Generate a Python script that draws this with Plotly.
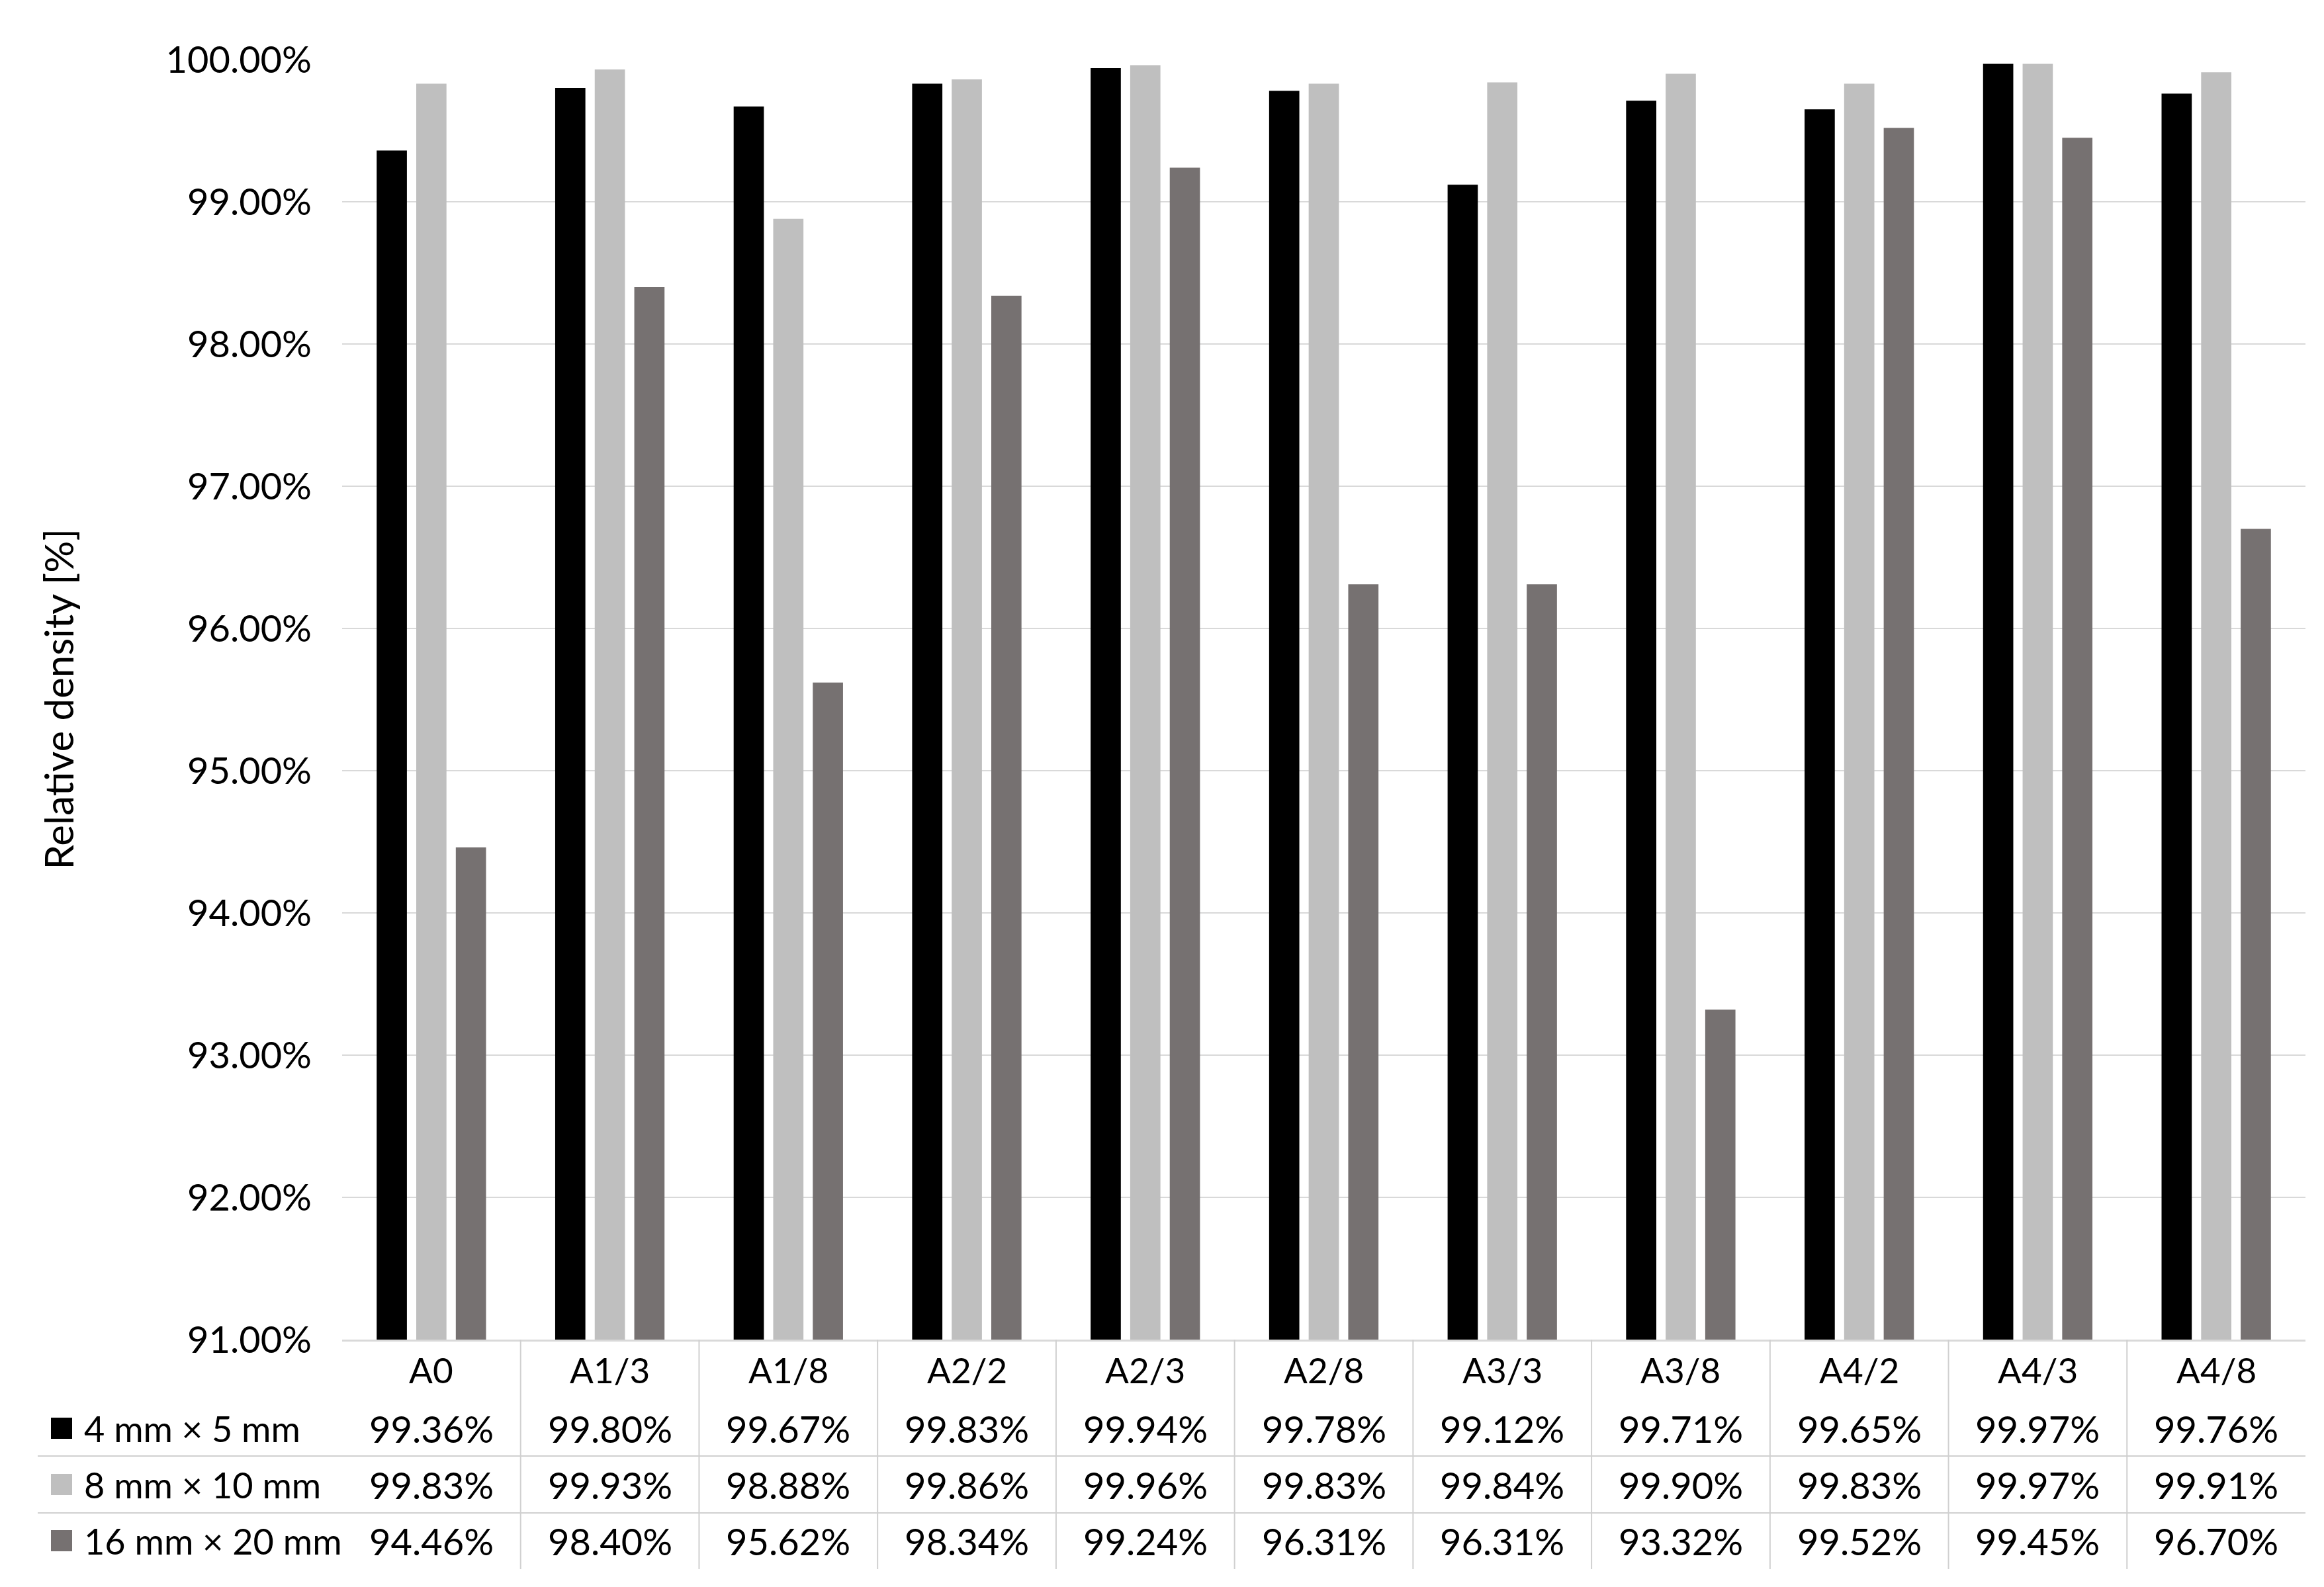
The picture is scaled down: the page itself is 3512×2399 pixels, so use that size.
import plotly.graph_objects as go

categories = ["A0", "A1/3", "A1/8", "A2/2", "A2/3", "A2/8", "A3/3", "A3/8", "A4/2", "A4/3", "A4/8"]
series_names = ["4 mm × 5 mm", "8 mm × 10 mm", "16 mm × 20 mm"]
s_4x5 = [99.36, 99.80, 99.67, 99.83, 99.94, 99.78, 99.12, 99.71, 99.65, 99.97, 99.76]
s_8x10 = [99.83, 99.93, 98.88, 99.86, 99.96, 99.83, 99.84, 99.90, 99.83, 99.97, 99.91]
s_16x20 = [94.46, 98.40, 95.62, 98.34, 99.24, 96.31, 96.31, 93.32, 99.52, 99.45, 96.70]
y_ticks = [91, 92, 93, 94, 95, 96, 97, 98, 99, 100]
y_title = "Relative density [%]"

series_values = [s_4x5, s_8x10, s_16x20]
colors = ["#000000", "#bfbfbf", "#767171"]

# page body has an 8px offset; target pixel coordinates are in window space
OFF = 8
WIN_W, WIN_H = 3512, 2399
W, H = WIN_W - OFF, WIN_H - OFF
PL, PR, PT, PB = 517, 3484, 90, 2025   # plot area in window pixels
ML, MR, MT, MB = PL - OFF, WIN_W - PR, PT - OFF, WIN_H - PB
PW = PR - PL
PH = PB - PT
FONT = "Lato"
FS_NUM = 56
FS_LEG = 54
FS_CAT = 53
FS_TITLE = 60


def px_x(xp):
    return (xp - PL) / PW


def px_y(yp):
    return (PB - yp) / PH


fig = go.Figure()
for name, vals, col in zip(series_names, series_values, colors):
    fig.add_trace(go.Bar(
        x=categories, y=vals, name=name, marker=dict(color=col, line=dict(width=0)),
        showlegend=False,
    ))

annotations = []
shapes = []

# Category labels row
for i, c in enumerate(categories):
    annotations.append(dict(x=i, y=px_y(2070), xref="x", yref="paper", text=c,
                            showarrow=False, xanchor="center", yanchor="middle",
                            font=dict(family=FONT, size=FS_CAT, color="#000000")))

row_centers = [2159, 2244, 2329]
for r, (name, vals, col) in enumerate(zip(series_names, series_values, colors)):
    yc = px_y(row_centers[r])
    for i, v in enumerate(vals):
        annotations.append(dict(x=i, y=yc, xref="x", yref="paper", text=f"{v:.2f}%",
                                showarrow=False, xanchor="center", yanchor="middle",
                                font=dict(family=FONT, size=FS_NUM, color="#000000")))
    annotations.append(dict(x=px_x(125), y=yc, xref="paper", yref="paper", text=name,
                            showarrow=False, xanchor="left", yanchor="middle",
                            font=dict(family=FONT, size=FS_LEG, color="#000000")))
    shapes.append(dict(type="rect", xref="paper", yref="paper",
                       x0=px_x(77), x1=px_x(109),
                       y0=px_y(row_centers[r] + 16), y1=px_y(row_centers[r] - 16),
                       fillcolor=col, line=dict(width=0)))

# Table lines
for yl in [2201, 2287]:
    shapes.append(dict(type="line", xref="paper", yref="paper",
                       x0=px_x(57), x1=1, y0=px_y(yl), y1=px_y(yl),
                       line=dict(color="#d0d0d0", width=2)))
for i in range(len(categories) - 1):
    shapes.append(dict(type="line", xref="x", yref="paper",
                       x0=i + 0.5, x1=i + 0.5, y0=0, y1=px_y(2372),
                       line=dict(color="#d0d0d0", width=2)))

# Y-axis title
annotations.append(dict(x=px_x(87), y=0.5, xref="paper", yref="paper", text=y_title,
                        textangle=-90, showarrow=False, xanchor="center", yanchor="middle",
                        font=dict(family=FONT, size=FS_TITLE, color="#000000")))

fig.update_layout(
    width=W, height=H,
    margin=dict(l=ML, r=MR, t=MT, b=MB, autoexpand=False),
    paper_bgcolor="white", plot_bgcolor="white",
    barmode="group", bargap=0.335, bargroupgap=0.236,
    annotations=annotations, shapes=shapes,
    font=dict(family=FONT, size=FS_NUM, color="#000000"),
)
fig.update_xaxes(type="category", range=[-0.5, len(categories) - 0.5],
                 showticklabels=False, showgrid=False,
                 showline=True, linecolor="#d9d9d9", linewidth=3, ticks="")
fig.update_yaxes(range=[91, 100], tickvals=y_ticks,
                 ticktext=[f"{t:.2f}%" for t in y_ticks],
                 showgrid=True, gridcolor="#d9d9d9", gridwidth=2,
                 showline=False, zeroline=False, ticks="",
                 ticklabelstandoff=45,
                 tickfont=dict(family=FONT, size=FS_NUM, color="#000000"))

fig.write_html("out.html")
